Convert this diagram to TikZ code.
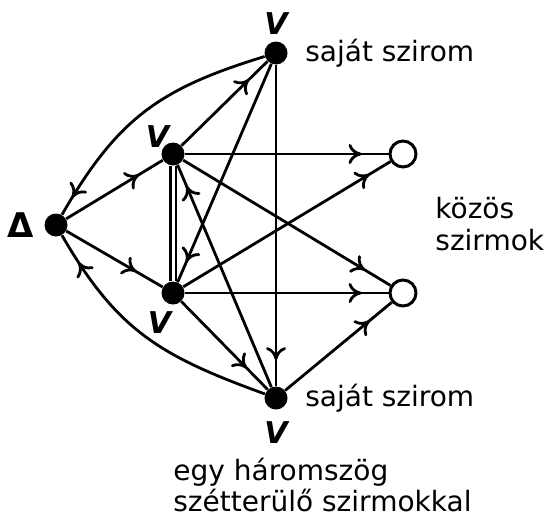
\documentclass[tikz,border=0pt]{standalone}
\usepackage{fontspec}
\setmainfont{DejaVu Sans}
\usetikzlibrary{arrows.meta, positioning, decorations.markings}

\begin{document}
\begin{tikzpicture}[
    x=0.5pt, y=0.5pt,
    font=\fontsize{14}{16}\selectfont,
    vtx/.style={circle, fill=black, inner sep=0pt, minimum size=11.5pt},
    petal/.style={circle, draw=black, line width=1.5pt, fill=white, inner sep=0pt, minimum size=13pt},
    vlbl/.style={inner sep=0pt, font=\fontsize{15}{15}\selectfont\bfseries\itshape},
    txt/.style={inner sep=0pt, align=left},
    edge/.style={line width=1.4pt},
    arr/.style={edge, postaction={decorate}, decoration={markings, mark=at position -#1 with {\arrow{To[length=6.5pt,width=10pt]}}}},
    arr/.default=13pt,
  ]
  \useasboundingbox (0,0) rectangle (549,516);

  \node[vtx] (d) at (56,291) {};
  \node[vtx] (v1) at (173,362) {};
  \node[vtx] (v2) at (173,223) {};
  \node[vtx] (t) at (276,463) {};
  \node[vtx] (b) at (276,118) {};
  \node[petal] (w1) at (403,362) {};
  \node[petal] (w2) at (403,223) {};

  \node[vlbl, above=3pt of t] (vt) {V};
  \node[vlbl, above left=-1pt and -2.5pt of v1] (vv1) {V};
  \node[vlbl, below left=5pt and -3.5pt of v2] (vv2) {V};
  \node[vlbl, below=5.5pt of b] (vb) {V};
  \node[inner sep=0pt, font=\fontsize{17}{17}\selectfont\bfseries, left=5pt of d] (dl) {Δ};

  \node[txt, right=8.5pt of t] (sajt) {saját szirom};
  \node[txt, right=8.5pt of b] (sajb) {saját szirom};
  \node[txt, anchor=west] (kozos) at (435,292) {közös\\szirmok};
  \node[txt, anchor=north west, font=\fontsize{14}{15.5}\selectfont] (cap) at (173,58) {egy háromszög\\szétterülő szirmokkal};

  \draw[arr=14pt] (d) -- (v1);
  \draw[arr=15.5pt] (d) -- (v2);
  \draw[arr] (v1) -- (t);
  \draw[arr=10pt] (t) to[out=197, in=60, looseness=1.1] (d);
  \draw[arr=16pt] (b) to[out=160, in=-60, looseness=1.1] (d);
  \draw[arr=13.5pt] (v1) -- (w1);
  \draw[arr=12.5pt] (v2) -- (w1);
  \draw[arr=15pt] (v1) -- (w2);
  \draw[arr=13.5pt] (v2) -- (w2);
  \draw[arr=14.5pt] (b) -- (w2);
  \draw[arr] (t) -- (b);
  \draw[arr=15pt] (v2) -- (b);
  \draw[arr=11.5pt] (b) -- (v1);
  \draw[arr=11pt] (t) -- (v2);
  \draw[edge, double, double distance=1.5pt] (v1) -- (v2);
\end{tikzpicture}
\end{document}
